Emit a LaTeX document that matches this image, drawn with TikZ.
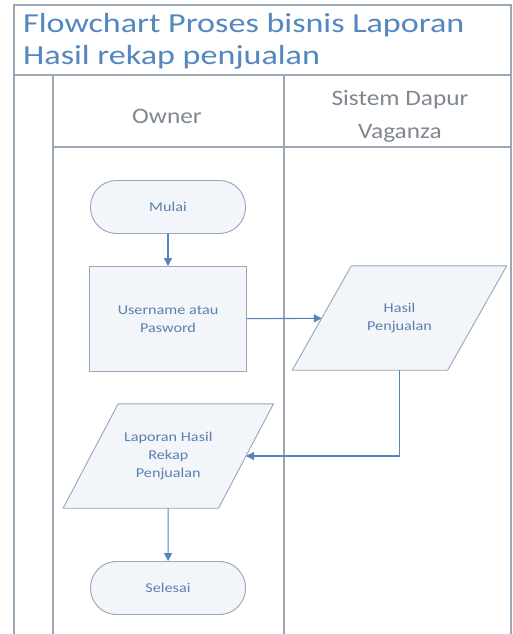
\documentclass[tikz,border=0pt]{standalone}
\usepackage{fontspec}
\setmainfont{Carlito}[FakeStretch=1.15]
\newfontfamily\titlefont{Carlito}[FakeStretch=1.24]
\newfontfamily\shapefont{Carlito}[FakeStretch=1.2]
\usetikzlibrary{arrows.meta,backgrounds}
\definecolor{framec}{HTML}{9AA8B6}
\definecolor{titlec}{HTML}{5287C0}
\definecolor{headc}{HTML}{7F8790}
\definecolor{shapec}{HTML}{9AA6B4}
\definecolor{shapefill}{HTML}{F2F5FA}
\definecolor{txtc}{HTML}{5B80AE}
\definecolor{arrowc}{HTML}{5585BD}
\begin{document}
\begin{tikzpicture}[x=1pt,y=-1pt,
  lane/.style={draw=framec,line width=1.1pt},
  titletext/.style={anchor=base west,text=titlec,inner sep=0pt,
    font=\titlefont\fontsize{27.5}{32}\selectfont},
  flowbox/.style={text=txtc,align=center,
    font=\shapefont\fontsize{13.5}{18}\selectfont,inner sep=0pt},
  term/.style={flowbox,draw=shapec,line width=0.9pt,fill=shapefill,rounded corners=26pt,minimum width=155pt,minimum height=53pt},
  proc/.style={flowbox,draw=shapec,line width=0.9pt,fill=shapefill,minimum width=157pt,minimum height=105pt},
  io/.style={flowbox,minimum width=155pt,minimum height=104pt},
  ioshape/.style={draw=shapec,line width=0.9pt,fill=shapefill,line join=miter},
  flowarrow/.style={draw=arrowc,line width=1.1pt,-{Triangle[width=8pt,length=8pt]}}]
\useasboundingbox (0,0) rectangle (513,634);
% frame and lanes
\draw[lane] (14,634) -- (14,5) -- (511,5) -- (511,634);
\draw[lane] (14,75) -- (511,75);
\draw[lane] (53,75) -- (53,634);
\draw[lane] (284,75) -- (284,634);
\draw[lane] (53,147) -- (511,147);
% title
\node[titletext] (title1) at (23,33) {Flowchart Proses bisnis Laporan};
\node[titletext] (title2) at (23,65) {Hasil rekap penjualan};
% headers
\node[text=headc,font=\fontsize{22}{33}\selectfont] (owner) at (167,116) {Owner};
\node[text=headc,align=center,font=\fontsize{22}{33}\selectfont] (sistem) at (400,116) {Sistem Dapur\\Vaganza};
% shapes
\node[term] (mulai) at (168,207) {Mulai};
\node[proc] (user) at (168,319) {Username atau\\Pasword};
\node[io] (hasil) at (399.5,318) {Hasil\\Penjualan};
\node[io] (lap) at (168.3,456) {Laporan Hasil\\Rekap\\Penjualan};
\node[term] (selesai) at (168,588) {Selesai};
\begin{pgfonlayer}{background}
\fill[white] (0,0) rectangle (513,634);
\draw[ioshape] ([xshift=-29.5pt]hasil.south west) -- ([xshift=29.5pt]hasil.north west)
  -- ([xshift=29.5pt]hasil.north east) -- ([xshift=-29.5pt]hasil.south east) -- cycle;
\draw[ioshape] ([xshift=-27.5pt]lap.south west) -- ([xshift=27.5pt]lap.north west)
  -- ([xshift=27.5pt]lap.north east) -- ([xshift=-27.5pt]lap.south east) -- cycle;
\end{pgfonlayer}
% connectors
\draw[flowarrow] (mulai) -- (user);
\draw[flowarrow] (user) -- (hasil);
\draw[flowarrow] (hasil.south) |- (lap.east);
\draw[flowarrow] (lap) -- (selesai);
\end{tikzpicture}
\end{document}
